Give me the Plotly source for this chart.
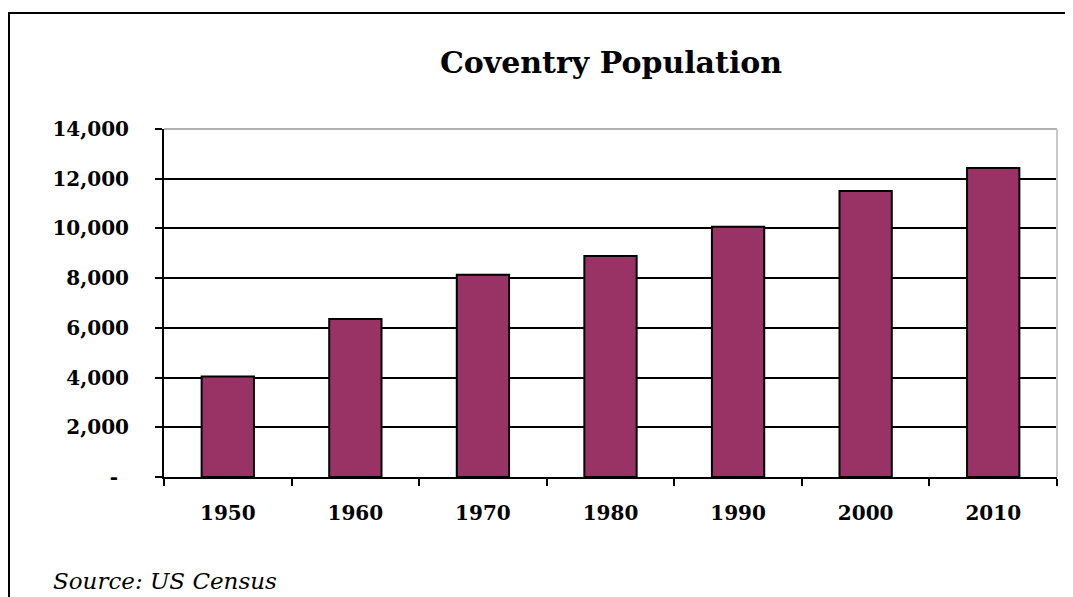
import plotly.graph_objects as go

years = ["1950", "1960", "1970", "1980", "1990", "2000", "2010"]
population = [4043, 6356, 8140, 8895, 10063, 11504, 12435]
ytick_vals = [0, 2000, 4000, 6000, 8000, 10000, 12000, 14000]
ytick_text = ["-\u00a0\u2009", "2,000", "4,000", "6,000", "8,000", "10,000", "12,000", "14,000"]

# page is shown with an 8px body margin, so figure coords = page coords - 8
W, H = 1065, 589
L, R, T, B = 156, 16, 121, 120
pw, ph = W - L - R, H - T - B

def px(x):
    return (x - L) / pw

def py(y):
    return (H - B - y) / ph

FONT = "DejaVu Serif"

fig = go.Figure(go.Bar(
    x=years, y=population,
    marker=dict(color="#993366", line=dict(color="black", width=2)),
    width=0.41,
))

fig.update_layout(
    width=W, height=H,
    margin=dict(l=L, r=R, t=T, b=B),
    paper_bgcolor="white", plot_bgcolor="white",
    showlegend=False,
    font=dict(family=FONT, color="black"),
    title=dict(text="<b>Coventry Population</b>", x=px(603), xref="paper", xanchor="center",
               y=1 - 54 / H, yanchor="middle", font=dict(family=FONT, size=30, color="black")),
    xaxis=dict(
        showline=True, linecolor="black", linewidth=2,
        ticks="outside", ticklen=7, tickwidth=2, tickcolor="black",
        tickson="boundaries", showgrid=False,
        tickfont=dict(family=FONT, size=20, color="black"),
        ticklabelstandoff=17,
    ),
    yaxis=dict(
        range=[0, 14000], tickvals=ytick_vals, ticktext=[f"<b>{t}</b>" for t in ytick_text],
        showline=True, linecolor="black", linewidth=2,
        ticks="outside", ticklen=7, tickwidth=2, tickcolor="black",
        showgrid=True, gridcolor="black", gridwidth=2, zeroline=False,
        tickfont=dict(family=FONT, size=20, color="black"),
        ticklabelstandoff=22,
    ),
    shapes=[
        dict(type="line", xref="paper", yref="paper", x0=0, x1=1, y0=1, y1=1,
             line=dict(color="#b0b0b0", width=2), layer="above"),
        dict(type="line", xref="paper", yref="paper", x0=1, x1=1, y0=0, y1=1,
             line=dict(color="#c8c8c8", width=2), layer="above"),
        dict(type="rect", xref="paper", yref="paper", x0=px(1), x1=px(1100), y0=py(640), y1=py(5),
             line=dict(color="black", width=2), fillcolor="rgba(0,0,0,0)", layer="above"),
    ],
    annotations=[
        dict(text="<i>Source: US Census</i>", xref="paper", yref="paper", x=px(43), y=py(573),
             xanchor="left", yanchor="middle", showarrow=False,
             font=dict(family=FONT, size=23, color="black")),
    ],
)
fig.update_xaxes(ticktext=[f"<b>{y}</b>" for y in years], tickvals=years)

fig.write_html("out.html")
